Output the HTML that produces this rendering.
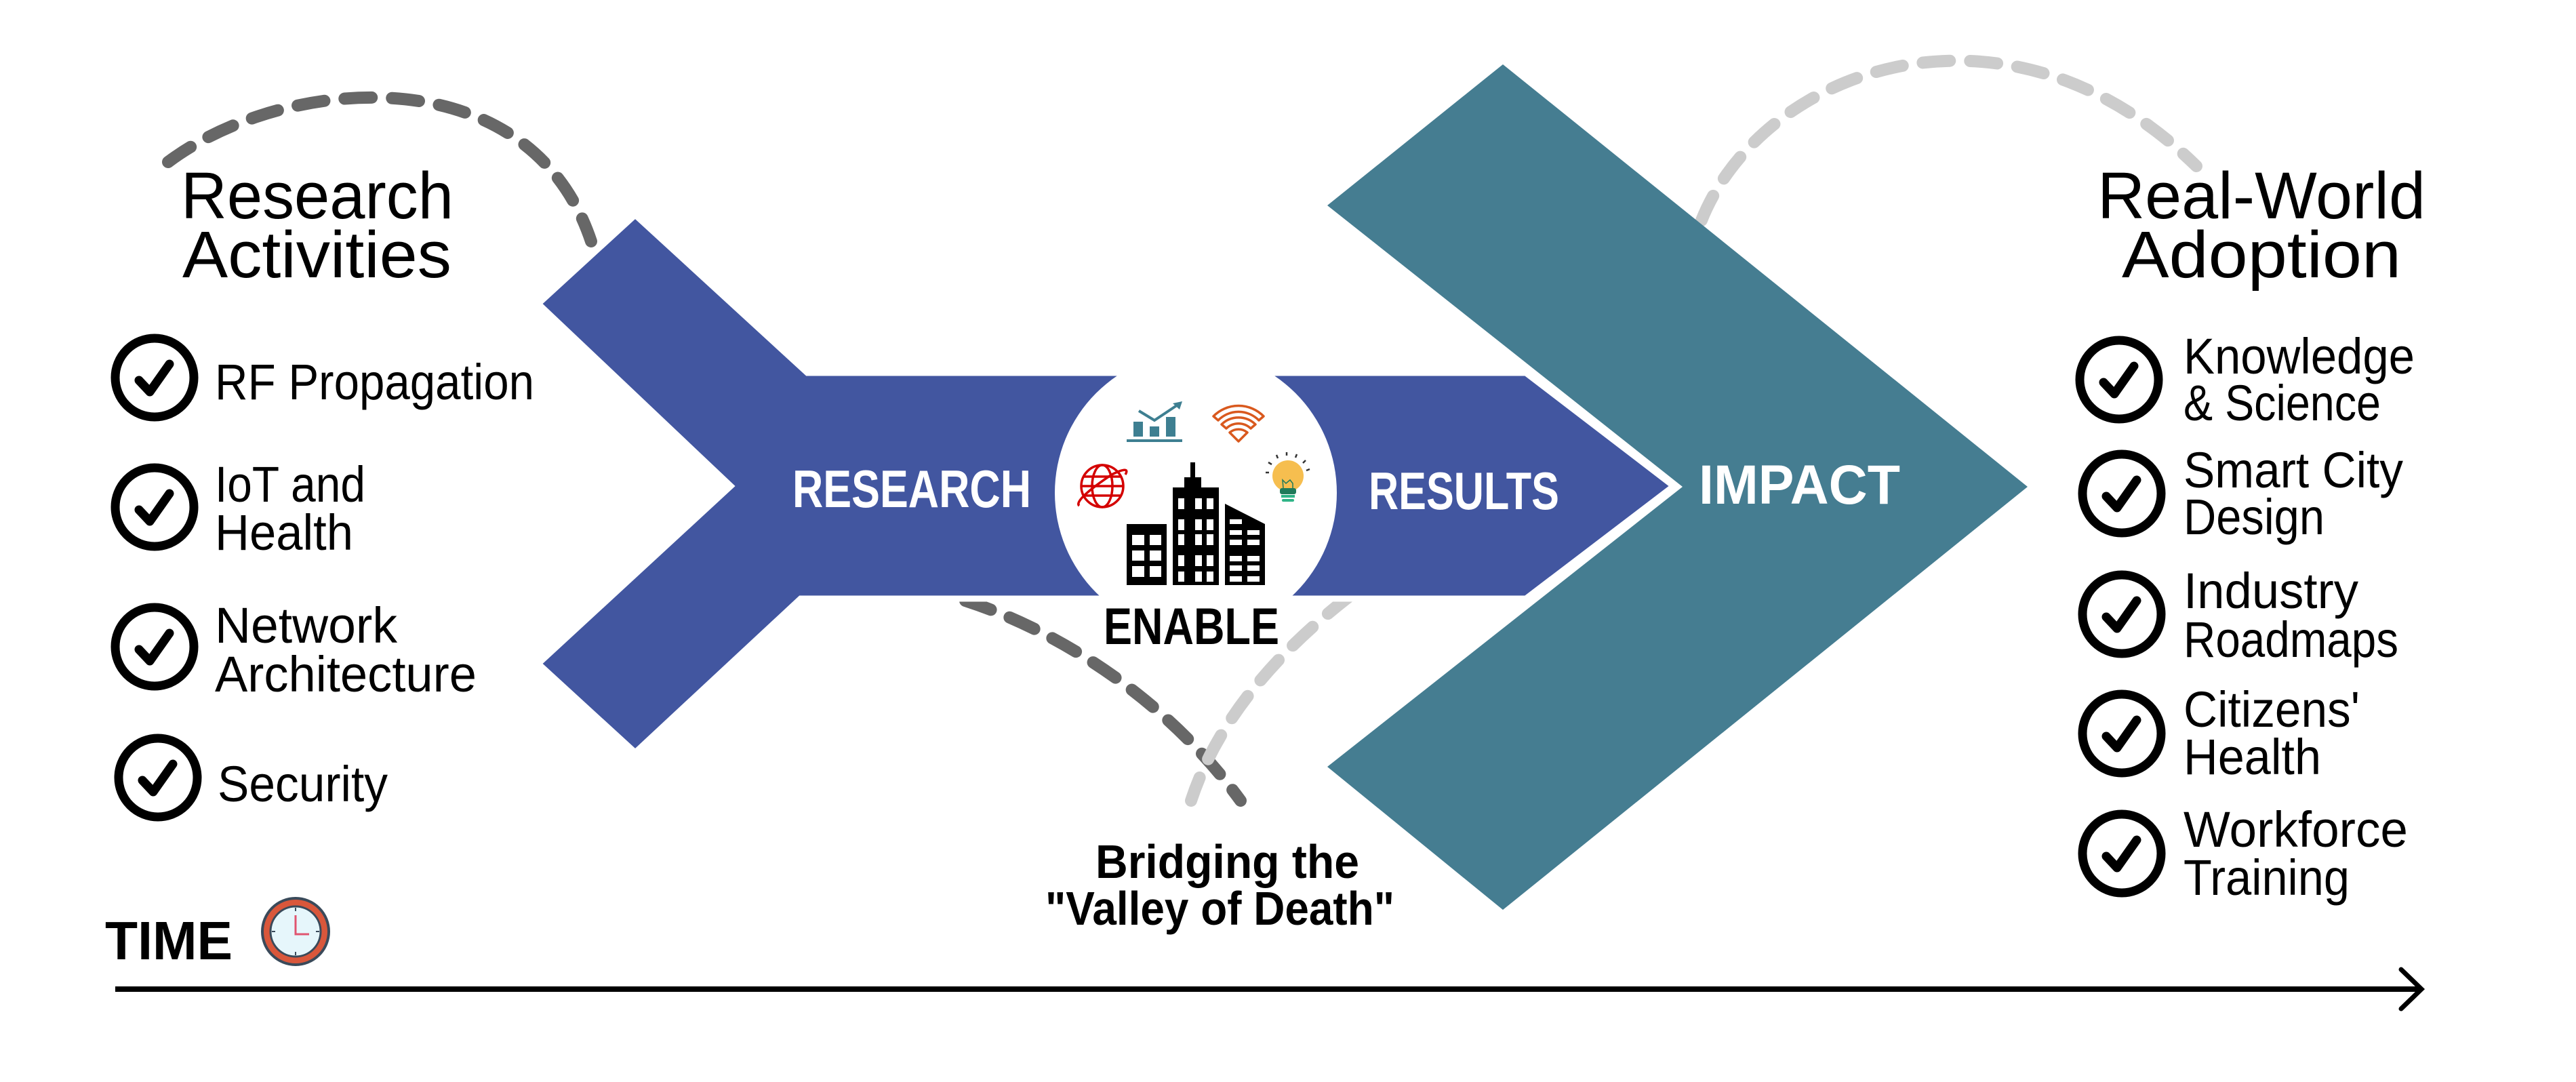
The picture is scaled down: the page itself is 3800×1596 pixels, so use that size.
<!DOCTYPE html>
<html><head><meta charset="utf-8"><style>
html,body{margin:0;padding:0;background:#fff;}
svg{display:block;}
text{font-family:"Liberation Sans",sans-serif;}
</style></head><body>
<svg width="3800" height="1596" viewBox="0 0 3800 1596" xmlns="http://www.w3.org/2000/svg">
<rect width="3800" height="1596" fill="#fff"/>
<!-- dashed arcs -->
<g fill="none" stroke-width="18" stroke-linecap="round" stroke-dasharray="40 30">
<path d="M248,239 C420,110 780,80 872,356" stroke="#676767"/>
<path d="M1424,886 C1560,930 1720,1030 1830,1181" stroke="#676767"/>
<path d="M2510,325 C2600,100 2960,-30 3240,245" stroke="#cccccc"/>
<path d="M1990,880 C1900,950 1800,1050 1757,1181" stroke="#cccccc"/>
</g>
<!-- teal chevron -->
<polygon points="1958,303 2217,95 2991,718 2217,1342 1958,1131 2482,718" fill="#457D91"/>
<!-- blue shape -->
<polygon points="794,448 937,317 1191,550 2251,550 2469,717 2251,883 1181,883 937,1110 794,979 1078,717" fill="#4256A0" stroke="#fff" stroke-width="9" stroke-linejoin="miter"/>
<!-- circle -->
<circle cx="1764" cy="727" r="208" fill="#fff"/>
<!-- chart icon -->
<g fill="#3E7F91">
<rect x="1672" y="622" width="14" height="22"/><rect x="1696" y="629" width="14" height="15"/><rect x="1720" y="615" width="14" height="29"/>
<rect x="1662" y="648" width="82" height="4"/>
<polyline points="1680,606 1703,620 1736,598" fill="none" stroke="#3E7F91" stroke-width="4"/>
<polygon points="1744,592 1730,595 1740,604"/>
</g>
<!-- wifi -->
<g fill="none" stroke="#D9591E" stroke-width="3.5" stroke-linejoin="round">
<path d="M1790,614 A52,52 0 0 1 1864,614 L1857,620 A42,42 0 0 0 1797,620 Z"/>
<path d="M1802,626 A36,36 0 0 1 1852,626 L1845,632 A26,26 0 0 0 1809,632 Z"/>
<path d="M1814,638 A20,20 0 0 1 1840,638 L1827,651 Z"/>
</g>
<!-- globe -->
<g fill="none" stroke="#D40000" stroke-width="3.5">
<circle cx="1626" cy="717" r="31"/>
<ellipse cx="1626" cy="717" rx="15" ry="31"/>
<line x1="1595" y1="717" x2="1657" y2="717"/><line x1="1599" y1="703" x2="1653" y2="703"/><line x1="1599" y1="731" x2="1653" y2="731"/>
<path d="M1592,746 C1585,740 1610,720 1640,700 C1660,690 1665,692 1660,700"/>
</g>
<!-- bulb -->
<g>
<circle cx="1900" cy="702" r="23" fill="#F6BE4F"/>
<rect x="1888" y="720" width="24" height="9" rx="3" fill="#1F7A5A"/>
<rect x="1890" y="730" width="20" height="4" fill="#2FB487"/>
<rect x="1891" y="736" width="18" height="4" rx="2" fill="#2FB487"/>
<path d="M1893,720 L1892,708 L1897,713 L1903,708 L1907,713 L1907,720" fill="none" stroke="#1F7A5A" stroke-width="1.5"/>
<g stroke="#333" stroke-width="2.5"><line x1="1867" y1="697" x2="1872" y2="697"/><line x1="1871" y1="682" x2="1876" y2="685"/><line x1="1883" y1="671" x2="1885" y2="676"/><line x1="1898" y1="667" x2="1898" y2="672"/><line x1="1913" y1="670" x2="1911" y2="675"/><line x1="1926" y1="679" x2="1922" y2="683"/><line x1="1932" y1="692" x2="1927" y2="694"/></g>
</g>
<!-- buildings -->
<g fill="#000">
<rect x="1662" y="773" width="59" height="90"/>
<rect x="1730" y="719" width="68" height="144"/>
<rect x="1747" y="704" width="25" height="16"/>
<rect x="1756" y="682" width="7" height="23"/>
<polygon points="1807,743 1866,773 1866,863 1807,863"/>
</g>
<g fill="#fff">
<rect x="1670" y="789" width="18" height="15"/><rect x="1696" y="789" width="17" height="15"/>
<rect x="1670" y="812" width="18" height="15"/><rect x="1696" y="812" width="17" height="15"/>
<rect x="1670" y="835" width="18" height="16"/><rect x="1696" y="835" width="17" height="16"/>
<rect x="1738" y="735" width="9" height="16"/><rect x="1763" y="735" width="10" height="16"/><rect x="1780" y="735" width="10" height="16"/>
<rect x="1738" y="766" width="9" height="16"/><rect x="1763" y="766" width="10" height="16"/><rect x="1780" y="766" width="10" height="16"/>
<rect x="1738" y="788" width="9" height="16"/><rect x="1763" y="788" width="10" height="16"/><rect x="1780" y="788" width="10" height="16"/>
<rect x="1738" y="819" width="9" height="16"/><rect x="1763" y="819" width="10" height="16"/><rect x="1780" y="819" width="10" height="16"/>
<rect x="1738" y="843" width="9" height="15"/><rect x="1763" y="843" width="10" height="15"/><rect x="1780" y="843" width="10" height="15"/>
<rect x="1814" y="766" width="18" height="7"/>
<rect x="1814" y="782" width="18" height="7"/><rect x="1840" y="782" width="18" height="7"/>
<rect x="1814" y="796" width="18" height="8"/><rect x="1840" y="796" width="18" height="8"/>
<rect x="1814" y="820" width="18" height="8"/><rect x="1840" y="820" width="18" height="8"/>
<rect x="1814" y="834" width="18" height="8"/><rect x="1840" y="834" width="18" height="8"/>
<rect x="1814" y="850" width="18" height="8"/><rect x="1840" y="850" width="18" height="8"/>
</g>
<!-- white labels -->
<g fill="#fff" font-weight="bold">
<text x="1169" y="748" font-size="78" textLength="352" lengthAdjust="spacingAndGlyphs">RESEARCH</text>
<text x="2019" y="751" font-size="78" textLength="281" lengthAdjust="spacingAndGlyphs">RESULTS</text>
<text x="2506" y="743" font-size="82" textLength="297" lengthAdjust="spacingAndGlyphs">IMPACT</text>
</g>
<g fill="#000" font-weight="bold">
<text x="1628" y="950" font-size="76" textLength="259" lengthAdjust="spacingAndGlyphs">ENABLE</text>
<text x="1616" y="1295" font-size="70" textLength="389" lengthAdjust="spacingAndGlyphs">Bridging the</text>
<text x="1542" y="1364" font-size="70" textLength="515" lengthAdjust="spacingAndGlyphs">"Valley of Death"</text>
<text x="155" y="1415" font-size="80" textLength="188" lengthAdjust="spacingAndGlyphs">TIME</text>
</g>
<!-- titles -->
<g fill="#000" font-size="97">
<text x="267" y="322" textLength="402" lengthAdjust="spacingAndGlyphs">Research</text>
<text x="269" y="409" textLength="397" lengthAdjust="spacingAndGlyphs">Activities</text>
<text x="3094" y="322" textLength="484" lengthAdjust="spacingAndGlyphs">Real-World</text>
<text x="3130" y="409" textLength="412" lengthAdjust="spacingAndGlyphs">Adoption</text>
</g>
<!-- check circles -->
<g fill="none" stroke="#000" stroke-width="13" stroke-linecap="round" stroke-linejoin="round">
<circle cx="228" cy="557" r="58"/><path d="M205,561 L221,578 L250,537"/>
<circle cx="228" cy="748" r="58"/><path d="M205,752 L221,769 L250,728"/>
<circle cx="228" cy="954" r="58"/><path d="M205,958 L221,975 L250,934"/>
<circle cx="233" cy="1147" r="58"/><path d="M210,1151 L226,1168 L255,1127"/>
<circle cx="3126" cy="560" r="58"/><path d="M3103,564 L3119,581 L3148,540"/>
<circle cx="3130" cy="728" r="58"/><path d="M3107,732 L3123,749 L3152,708"/>
<circle cx="3130" cy="906" r="58"/><path d="M3107,910 L3123,927 L3152,886"/>
<circle cx="3130" cy="1082" r="58"/><path d="M3107,1086 L3123,1103 L3152,1062"/>
<circle cx="3130" cy="1259" r="58"/><path d="M3107,1263 L3123,1280 L3152,1239"/>
</g>
<!-- list text -->
<g fill="#000" font-size="74">
<text x="317" y="589" textLength="471" lengthAdjust="spacingAndGlyphs">RF Propagation</text>
<text x="317" y="740" textLength="222" lengthAdjust="spacingAndGlyphs">IoT and</text>
<text x="317" y="811" textLength="204" lengthAdjust="spacingAndGlyphs">Health</text>
<text x="317" y="948" textLength="269" lengthAdjust="spacingAndGlyphs">Network</text>
<text x="317" y="1020" textLength="386" lengthAdjust="spacingAndGlyphs">Architecture</text>
<text x="321" y="1182" textLength="251" lengthAdjust="spacingAndGlyphs">Security</text>
<text x="3221" y="551" textLength="341" lengthAdjust="spacingAndGlyphs">Knowledge</text>
<text x="3221" y="620" textLength="291" lengthAdjust="spacingAndGlyphs">&amp; Science</text>
<text x="3221" y="719" textLength="324" lengthAdjust="spacingAndGlyphs">Smart City</text>
<text x="3221" y="788" textLength="208" lengthAdjust="spacingAndGlyphs">Design</text>
<text x="3221" y="897" textLength="258" lengthAdjust="spacingAndGlyphs">Industry</text>
<text x="3221" y="969" textLength="317" lengthAdjust="spacingAndGlyphs">Roadmaps</text>
<text x="3221" y="1072" textLength="260" lengthAdjust="spacingAndGlyphs">Citizens'</text>
<text x="3221" y="1142" textLength="203" lengthAdjust="spacingAndGlyphs">Health</text>
<text x="3221" y="1249" textLength="331" lengthAdjust="spacingAndGlyphs">Workforce</text>
<text x="3221" y="1320" textLength="245" lengthAdjust="spacingAndGlyphs">Training</text>
</g>
<!-- clock -->
<g>
<circle cx="436" cy="1374" r="49" fill="#D9573B" stroke="#3a4a5a" stroke-width="4"/>
<circle cx="436" cy="1374" r="37" fill="#E6F6FB" stroke="#3a4a5a" stroke-width="3"/>
<polyline points="436,1350 436,1378 456,1378" fill="none" stroke="#E05570" stroke-width="3"/>
<g stroke="#3a4a5a" stroke-width="2"><line x1="436" y1="1339" x2="436" y2="1344"/><line x1="436" y1="1404" x2="436" y2="1409"/><line x1="401" y1="1374" x2="406" y2="1374"/><line x1="466" y1="1374" x2="471" y2="1374"/></g>
</g>
<!-- timeline -->
<line x1="170" y1="1459" x2="3570" y2="1459" stroke="#000" stroke-width="8"/>
<polyline points="3542,1430 3572,1459 3542,1488" fill="none" stroke="#000" stroke-width="7" stroke-linecap="round"/>
</svg>
</body></html>
